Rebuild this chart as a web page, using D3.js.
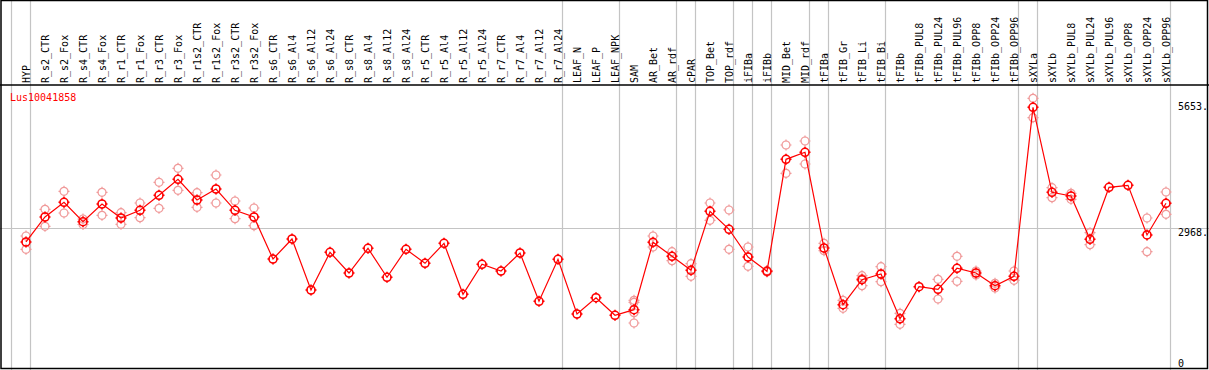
<!DOCTYPE html>
<html>
<head>
<meta charset="utf-8">
<script src="https://cdnjs.cloudflare.com/ajax/libs/d3/7.8.5/d3.min.js"></script>
<style>
  body { margin: 0; background: #fff; }
  text { font-family: 'DejaVu Sans Mono', monospace; font-size: 10px; }
</style>
</head>
<body>
<div class="chart"></div>
<script>
const width = 1209, height = 370

const gene = 'Lus10041858'

const samples = ['HYP', 'R_s2_CTR', 'R_s2_Fox', 'R_s4_CTR', 'R_s4_Fox', 'R_r1_CTR', 'R_r1_Fox',
    'R_r3_CTR', 'R_r3_Fox', 'R_r1s2_CTR', 'R_r1s2_Fox', 'R_r3s2_CTR', 'R_r3s2_Fox',
    'R_s6_CTR', 'R_s6_Al4', 'R_s6_Al12', 'R_s6_Al24', 'R_s8_CTR', 'R_s8_Al4', 'R_s8_Al12', 'R_s8_Al24',
    'R_r5_CTR', 'R_r5_Al4', 'R_r5_Al12', 'R_r5_Al24', 'R_r7_CTR', 'R_r7_Al4', 'R_r7_Al12', 'R_r7_Al24',
    'LEAF_N', 'LEAF_P', 'LEAF_NPK', 'SAM', 'AR_Bet', 'AR_rdf', 'cPAR', 'TOP_Bet', 'TOP_rdf',
    'iFIBa', 'iFIBb', 'MID_Bet', 'MID_rdf', 'tFIBa', 'tFIB_Gr', 'tFIB_Li', 'tFIB_Bi', 'tFIBb',
    'tFIBb_PUL8', 'tFIBb_PUL24', 'tFIBb_PUL96', 'tFIBb_OPP8', 'tFIBb_OPP24', 'tFIBb_OPP96',
    'sXYLa', 'sXYLb', 'sXYLb_PUL8', 'sXYLb_PUL24', 'sXYLb_PUL96', 'sXYLb_OPP8', 'sXYLb_OPP24', 'sXYLb_OPP96']

// mean expression per sample
const means = [2678, 3209, 3521, 3109, 3485, 3188, 3351, 3670, 4010, 3570, 3804, 3351, 3209,
    2316, 2742, 1658, 2459, 2019, 2544, 1928, 2523,
    2225, 2650, 1566, 2204, 2061, 2444, 1418, 2310,
    1148, 1494, 1120, 1239, 2671, 2374, 2076, 3330, 2948,
    2359, 2055, 4435, 4584, 2550, 1345, 1877, 1998, 1046,
    1728, 1673, 2119, 2019, 1749, 1949,
    5540, 3734, 3655, 2735, 3840, 3883, 2827, 3500]

// individual replicates (pale circles)
const replicates = [[2805, 2523], [3373, 3011], [3755, 3294], [3167, 3050], [3734, 3245], [3300, 3054], [3507, 3194],
    [3947, 3394], [4244, 3776], [3726, 3415], [4102, 3507], [3549, 3173], [3400, 3024],
    [], [], [], [], [], [], [], [],
    [], [], [], [], [], [], [], [],
    [], [], [], [1439, 1396, 1175, 956], [2805, 2571], [2472, 2280], [2217, 1949], [3507, 3139], [3358, 2523],
    [2571, 2161], [2040, 2070], [4739, 4138], [4824, 4335], [2650, 2493], [1439, 1269], [1962, 1749, 1900], [2153, 1834], [1162, 929],
    [], [1885, 1466], [2374, 1843], [1976, 2061], [1800, 1700], [2061, 1864],
    [5732, 5319], [3832, 3619], [3713, 3585], [2875, 2620], [], [], [3188, 2472], [3740, 3266]]

// separators drawn after these sample indices
const groupEnds = [-1, 0, 28, 31, 34, 35, 37, 38, 39, 41, 42, 45, 52, 53, 60]

const yTicks = [0, 2968, 5653]

const headerY = 85

const svg = d3.select('.chart').append('svg')
    .attr('width', width)
    .attr('height', height)

const x = d3.scalePoint()
    .domain(samples)
    .range([26, 1166])

const step = x.step()

const y = d3.scaleLinear()
    .domain([0, 5653])
    .range([368, 102])

// group separators (full height)
svg.append('g').attr('class', 'separators')
    .selectAll('line')
    .data(groupEnds)
    .enter().append('line')
    .attr('x1', d => Math.round(x(samples[0]) + d * step + 4) + 0.5)
    .attr('x2', d => Math.round(x(samples[0]) + d * step + 4) + 0.5)
    .attr('y1', 0)
    .attr('y2', height)
    .style('stroke', '#c4c4c4')
    .style('stroke-width', 1.2)

// horizontal grid at middle tick
svg.append('g').attr('class', 'grid')
    .selectAll('line')
    .data(yTicks.slice(1, 2))
    .enter().append('line')
    .attr('x1', 0)
    .attr('x2', width)
    .attr('y1', d => Math.round(y(d)) + 0.5)
    .attr('y2', d => Math.round(y(d)) + 0.5)
    .style('stroke', '#c4c4c4')
    .style('stroke-width', 1.2)

// right axis labels
svg.append('g').attr('class', 'y-labels')
    .selectAll('text')
    .data(yTicks)
    .enter().append('text')
    .attr('x', 1178)
    .attr('y', d => Math.min(y(d), 359) + 8)
    .text(d => d === 0 ? '0' : d + '.')
    .style('fill', '#000')

// header labels
svg.append('g').attr('class', 'x-labels')
    .selectAll('text')
    .data(samples)
    .enter().append('text')
    .attr('transform', d => 'translate(' + (x(d) + 4) + ',' + (headerY - 2) + ') rotate(-90)')
    .text(d => d)
    .style('fill', '#000')

// header line and frame
svg.append('line')
    .attr('x1', 0).attr('x2', width)
    .attr('y1', headerY).attr('y2', headerY)
    .style('stroke', '#000')
    .style('stroke-width', 1.5)

svg.append('rect')
    .attr('x', 1).attr('y', 0.5)
    .attr('width', width - 2.5).attr('height', height - 2)
    .style('fill', 'none')
    .style('stroke', '#000')
    .style('stroke-width', 1.5)

svg.append('text')
    .attr('x', 10)
    .attr('y', 101)
    .text(gene)
    .style('fill', '#ff0000')

function marker(g, r) {
    g.append('circle').attr('r', r)
    g.append('path')
        .attr('d', 'M0,' + (-r - 1.5) + 'V' + (-r + 0.5) +
            'M0,' + (r - 0.5) + 'V' + (r + 1.5) +
            'M' + (-r - 1.5) + ',0H' + (-r + 0.5) +
            'M' + (r - 0.5) + ',0H' + (r + 1.5))
}

// replicate circles
const repPoints = []
replicates.forEach((list, i) => list.forEach(v => repPoints.push({ s: samples[i], v: v })))

svg.append('g').attr('class', 'replicates')
    .selectAll('g')
    .data(repPoints)
    .enter().append('g')
    .attr('transform', d => 'translate(' + x(d.s) + ',' + y(d.v) + ')')
    .style('fill', 'none')
    .style('stroke', '#f09a9a')
    .style('stroke-width', 1.2)
    .each(function () { marker(d3.select(this), 4) })

// mean line
const line = d3.line()
    .x((d, i) => x(samples[i]))
    .y(d => y(d))

svg.append('path')
    .datum(means)
    .attr('d', line)
    .style('fill', 'none')
    .style('stroke', '#ff0000')
    .style('stroke-width', 1.2)

// mean circles
svg.append('g').attr('class', 'means')
    .selectAll('g')
    .data(means)
    .enter().append('g')
    .attr('transform', (d, i) => 'translate(' + x(samples[i]) + ',' + y(d) + ')')
    .style('fill', 'none')
    .style('stroke', '#ff0000')
    .style('stroke-width', 1.6)
    .each(function () { marker(d3.select(this), 4) })
</script>
</body>
</html>
